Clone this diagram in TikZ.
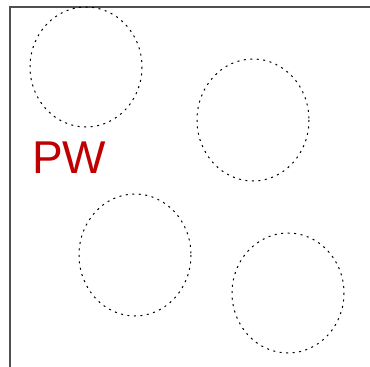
\documentclass[tikz,border=0pt]{standalone}
\usepackage{fontspec}
\setmainfont{Liberation Sans}
\definecolor{pwred}{RGB}{192,0,0}
\definecolor{framegray}{RGB}{80,80,80}
\begin{document}
\begin{tikzpicture}[x=1pt,y=-1pt,
  blob/.style={draw=black,line width=1pt,dash pattern=on 2pt off 4.5pt},
  framel/.style={draw=framegray,line width=1.3pt}]
\useasboundingbox (0,0) rectangle (370,367);
\coordinate (fb) at (10,367);
\coordinate (fc) at (10,7);
\coordinate (fr) at (370,7);
\draw[framel] (fb) -- (fc) -- (fr);
\draw[blob] (86,67) ellipse [x radius=56, y radius=60];
\draw[blob] (253,120) ellipse [x radius=56, y radius=61];
\draw[blob] (135,255) ellipse [x radius=56, y radius=61];
\draw[blob] (288,293) ellipse [x radius=56, y radius=60];
\node[text=pwred,font=\fontsize{46}{46}\selectfont,inner sep=0pt,anchor=base west] (pw) at (32,173) {PW};
\end{tikzpicture}
\end{document}
